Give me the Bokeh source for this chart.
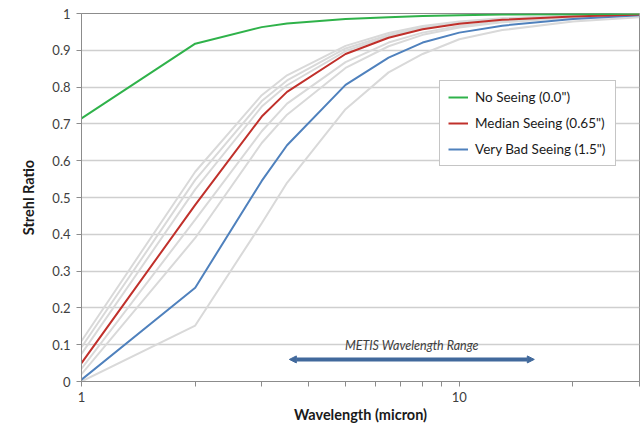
from bokeh.plotting import figure
from bokeh.models import FixedTicker, Legend, LegendItem, Arrow, NormalHead, Label
from bokeh.embed import file_html
from bokeh.resources import INLINE

# ---------------- data ----------------
wavelength = [1, 2, 3, 3.5, 5, 6.5, 8, 10, 13, 20, 30]

no_seeing = [0.715, 0.918, 0.963, 0.973, 0.985, 0.990, 0.993, 0.995, 0.997, 0.998, 0.999]
median_seeing = [0.050, 0.480, 0.720, 0.787, 0.890, 0.934, 0.957, 0.972, 0.983, 0.992, 0.997]
very_bad_seeing = [0.005, 0.255, 0.545, 0.642, 0.806, 0.880, 0.921, 0.948, 0.967, 0.985, 0.995]

grey_series = [
    [0.110, 0.570, 0.778, 0.832, 0.912, 0.947, 0.966, 0.978, 0.987, 0.994, 0.998],
    [0.093, 0.548, 0.762, 0.818, 0.905, 0.942, 0.962, 0.976, 0.986, 0.993, 0.998],
    [0.075, 0.522, 0.747, 0.805, 0.898, 0.938, 0.960, 0.974, 0.985, 0.993, 0.997],
    [0.035, 0.440, 0.680, 0.755, 0.868, 0.921, 0.948, 0.966, 0.979, 0.990, 0.996],
    [0.020, 0.390, 0.648, 0.725, 0.852, 0.911, 0.942, 0.962, 0.976, 0.989, 0.995],
    [0.000, 0.152, 0.430, 0.540, 0.740, 0.840, 0.890, 0.930, 0.955, 0.978, 0.990],
]

legend_labels = ['No Seeing (0.0")', 'Median Seeing (0.65")', 'Very Bad Seeing (1.5")']
metis_range = [3.55, 15.8]
metis_label = "METIS Wavelength Range"
metis_y = 0.06

y_ticks = [0, 0.1, 0.2, 0.3, 0.4, 0.5, 0.6, 0.7, 0.8, 0.9, 1.0]
y_tick_labels = ["0", "0.1", "0.2", "0.3", "0.4", "0.5", "0.6", "0.7", "0.8", "0.9", "1"]
x_major = [1, 10]
x_minor = [2, 3, 4, 5, 6, 7, 8, 9, 20, 30]

# ---------------- figure ----------------
FONT = "Lato"
TXT = "#404040"

p = figure(width=641, height=426, x_axis_type="log", x_range=(1, 30), y_range=(0, 1),
           output_backend="svg", toolbar_location=None,
           min_border_left=81, min_border_right=2, min_border_top=13, min_border_bottom=45)
p.background_fill_color = "white"
p.border_fill_color = "white"
p.outline_line_color = "#8c8c8c"
p.outline_line_width = 1

# axes
p.xaxis.ticker = FixedTicker(ticks=x_major, minor_ticks=x_minor)
p.yaxis.ticker = FixedTicker(ticks=y_ticks)
p.yaxis.major_label_overrides = {t: l for t, l in zip(y_ticks, y_tick_labels)}
p.xaxis.major_label_overrides = {1: "1", 10: "10"}

for ax in (p.xaxis[0], p.yaxis[0]):
    ax.axis_line_color = "#8c8c8c"
    ax.major_tick_line_color = "#8c8c8c"
    ax.minor_tick_line_color = "#8c8c8c"
    ax.major_tick_out = 5
    ax.major_tick_in = 0
    ax.minor_tick_out = 5
    ax.minor_tick_in = 0
    ax.major_label_text_font = FONT
    ax.major_label_text_font_size = "13px"
    ax.major_label_text_color = TXT
    ax.axis_label_text_font = FONT
    ax.axis_label_text_font_style = "bold"
    ax.axis_label_text_font_size = "14.5px"
    ax.axis_label_text_color = "#1a1a1a"

p.yaxis.minor_tick_line_color = None
p.yaxis.major_label_standoff = 6
p.xaxis.major_label_standoff = 5
p.yaxis.axis_label = "Strehl Ratio"
p.xaxis.axis_label = "Wavelength (micron)"
p.yaxis.axis_label_standoff = 12
p.xaxis.axis_label_standoff = 1

p.xgrid.grid_line_color = None
p.ygrid.grid_line_color = "#cfcfcf"
p.ygrid.grid_line_width = 1.3
p.ygrid.ticker = FixedTicker(ticks=y_ticks)

# ---------------- lines ----------------
for g in grey_series:
    p.line(wavelength, g, line_color="#d9d9d9", line_width=2)

r_blue = p.line(wavelength, very_bad_seeing, line_color="#4f81bd", line_width=2)
r_red = p.line(wavelength, median_seeing, line_color="#c0302b", line_width=2)
r_green = p.line(wavelength, no_seeing, line_color="#2fb24a", line_width=2)

legend = Legend(items=[LegendItem(label=legend_labels[0], renderers=[r_green]),
                       LegendItem(label=legend_labels[1], renderers=[r_red]),
                       LegendItem(label=legend_labels[2], renderers=[r_blue])],
                location=(358, 215), padding=8, margin=0, spacing=10,
                label_height=16, label_width=132, glyph_width=20, glyph_height=16,
                label_standoff=7, label_text_font=FONT, label_text_font_size="13.5px",
                label_text_color="#1a1a1a", border_line_color="#8c8c8c",
                border_line_width=1, background_fill_color="white", background_fill_alpha=1)
p.add_layout(legend)

# ---------------- METIS range arrow ----------------
p.add_layout(Arrow(x_start=metis_range[0], x_end=metis_range[1], y_start=metis_y, y_end=metis_y,
                   line_color="#41699c", line_width=4,
                   start=NormalHead(size=7, fill_color="#41699c", line_color="#41699c"),
                   end=NormalHead(size=7, fill_color="#41699c", line_color="#41699c")))
p.add_layout(Label(x=(metis_range[0] * metis_range[1]) ** 0.5, y=0.097, text=metis_label,
                   text_align="center", text_baseline="middle", text_font=FONT,
                   text_font_style="italic", text_font_size="12.5px", text_color=TXT))

open("out.html", "w").write(file_html(p, INLINE))
